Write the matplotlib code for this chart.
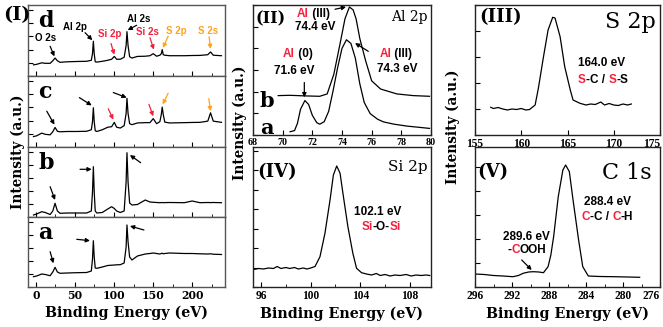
import matplotlib.pyplot as plt
from matplotlib.offsetbox import TextArea, HPacker, AnnotationBbox
from matplotlib.ticker import MultipleLocator

W, H = 663, 327
RED = '#f5203c'
ORANGE = '#ffa31a'
SERIF = 'DejaVu Serif'
TICKFONT = 'Liberation Serif'
SANS = 'Liberation Sans'

# ---- panel (I): survey spectra d, c, b, a ----
survey_x = [-3, 1, 7.6, 12, 18.3, 21.7, 24.6, 27.6, 31, 40, 52, 65, 71, 72.5, 73.6, 74.7, 76, 78,
            85, 92, 97, 100.4, 103.4, 108, 113, 115.5, 116.6, 118, 120, 123, 130, 140, 146, 150.2,
            154.5, 158.7, 160.5, 161.7, 163, 165, 171, 190, 200, 210, 220, 223.5, 227, 237.5]
survey_d = [11, 11.5, 13, 12.5, 12.5, 15, 17.7, 15, 13.5, 14, 14.3, 14.5, 15.5, 22, 34.3, 22, 14, 13.7,
            14.5, 15.5, 16.5, 19.3, 16.5, 16.5, 18.5, 30, 43.7, 30, 19, 17.7, 19.3, 19.5, 20, 22,
            19.5, 20.5, 22, 26, 21, 20.5, 20, 20, 20.2, 20.3, 21, 23.7, 20.5, 20]
survey_c = [10.3, 11, 13.7, 12.5, 12, 15, 19.3, 15.5, 15, 15.3, 15.3, 15.5, 17, 25, 38.7, 25, 16, 15.3,
            17, 19.5, 20, 24.3, 19.5, 18.7, 21, 33, 48, 33, 23, 22, 23.7, 24, 24, 28,
            23, 25, 32, 39.3, 32, 24.5, 23.7, 24, 24.2, 24.3, 25.5, 33.7, 25.5, 24.3]
survey_b = [2, 3, 5.3, 4.5, 2.5, 6, 13.7, 6, 3.7, 4, 4, 4, 6, 25, 50.3, 25, 6, 4,
            4.5, 8, 10.3, 8.5, 6, 4.5, 6, 35, 64.3, 35, 14, 12, 12.5, 17, 15, 14.7,
            14.5, 14.3, 14.4, 14.5, 14.3, 14.4, 14.5, 14.3, 16, 14.3, 14.5, 14.4, 14.5, 14.3]
survey_a = [10.3, 11, 13, 12.5, 11.3, 15, 19.7, 15, 13.7, 14, 14.3, 14.5, 16, 28, 46.3, 30, 19, 18.7,
            20, 21.5, 21.8, 22, 22.2, 22.3, 24, 40, 62, 45, 30, 27, 31, 33, 33.5, 34,
            33.5, 33, 33.5, 33.8, 33.2, 33.5, 34, 33.5, 33.5, 33.2, 33, 33.2, 32.8, 32.5]
survey_ticks = [0, 50, 100, 150, 200]

# ---- panel (II): Al 2p ----
al_a_x = [70.5, 70.8, 71.0, 71.2, 71.5, 71.75, 72.0, 72.3, 72.5, 72.8, 73.1, 73.4, 73.7, 74.0, 74.3,
          74.6, 74.9, 75.2, 75.5, 75.9, 76.4, 76.8, 77.5, 78.4, 79.2, 79.9]
al_a_y = [3.3, 4.5, 12, 26, 35, 31, 20, 12.5, 11, 13.5, 24, 45, 68, 88, 96.7,
          93, 78, 52, 33, 21.7, 16, 13.3, 11, 9, 7.8, 6.7]
al_b_x = [69.7, 70.5, 71.5, 72.5, 73.0, 73.45, 73.9, 74.2, 74.5, 74.75, 74.95, 75.2, 75.6, 76.0,
          76.6, 77.7, 78.8, 79.9]
al_b_y = [40, 40.3, 39.7, 39.3, 41.7, 61.7, 95, 118, 130, 127, 118, 98, 75, 55,
          46.7, 41.7, 40, 39.3]
al_ticks = [68, 70, 72, 74, 76, 78, 80]

# ---- panel (III): S 2p ----
s_x = [156.7, 157, 157.5, 158, 158.5, 159, 159.5, 160, 160.5, 160.9, 161.5, 161.85, 162.4, 162.9,
       163.4, 163.65, 164.2, 164.7, 165.3, 165.6, 166.35, 167, 167.5, 168, 168.6, 169, 169.5, 170,
       170.5, 171, 171.5, 171.9]
s_y = [27.7, 26.5, 27.5, 26, 25, 26, 25.5, 26.5, 25, 25.5, 30, 46.7, 78, 105,
       117.7, 117, 98.3, 68.3, 45, 35, 31.7, 30, 31, 30.5, 33, 30, 31.5, 30,
       29.5, 31, 30, 31]
s_ticks = [155, 160, 165, 170, 175]

# ---- panel (IV): Si 2p ----
si_x = [95.4, 95.8, 96.2, 96.6, 97.0, 97.3, 97.6, 98.0, 98.3, 98.7, 99.0, 99.4, 99.7, 100.0, 100.35,
        100.75, 101.15, 101.56, 101.83, 102.1, 102.37, 102.6, 103.0, 103.4, 103.7, 104.1, 104.5,
        104.9, 105.3, 105.6, 106.0, 106.4, 106.8, 107.2, 107.7, 108.1, 108.5, 108.9, 109.3, 109.6]
si_y = [17.5, 18.5, 18, 19, 18.5, 20.5, 18.5, 19.5, 18.5, 19.5, 18, 19, 18, 19, 20.5,
        30.3, 53.7, 87, 112, 121, 113.7, 93.7, 60.3, 33.7, 18.7, 14.3, 13,
        12, 13.5, 11.5, 12.5, 11, 12, 11.5, 12.5, 11, 12, 11.5, 12, 11.5]
si_ticks = [96, 100, 104, 108]

# ---- panel (V): C 1s ----
c_x = [296, 295, 294, 293, 291.9, 291.3, 290.8, 290.2, 289.7, 289.1, 288.6, 288.1, 287.8, 287.5, 287.0,
       286.5, 286.2, 285.8, 285.4, 284.8, 284.35, 283.75, 282.5, 281, 279.5, 278.2]
c_y = [13, 12.5, 11.5, 11, 10.3, 11.5, 13.7, 15, 15.3, 15, 14.3, 20.3, 32, 50.3, 90.3,
       117, 122, 115.3, 87, 47, 20.3, 11, 10.5, 10.3, 10, 9.7]
c_ticks = [296, 292, 288, 284, 280, 276]

fig = plt.figure(figsize=(W / 100, H / 100), dpi=100)


def add_ax(l, t, r, b):
    return fig.add_axes([l / W, 1 - b / H, (r - l) / W, (b - t) / H])


def style(ax, spine='#222222'):
    for s in ax.spines.values():
        s.set_color(spine)
        s.set_linewidth(1.0)
    ax.tick_params(which='both', direction='in', labelsize=8, pad=2.5)
    ax.tick_params(which='major', length=3.5)
    ax.tick_params(which='minor', length=2)
    ax.tick_params(axis='y', which='both', labelleft=False)


def tickfont(ax, family, size, last_right=False):
    labs = ax.get_xticklabels()
    for lab in labs:
        lab.set_fontfamily(family)
        lab.set_fontweight('bold')
        lab.set_fontsize(size)
    if last_right:
        labs[-1].set_horizontalalignment('right')


def xlabel(ax):
    ax.set_xlabel('Binding Energy (eV)', family=SERIF, fontweight='bold', fontsize=10.3, labelpad=3)


def ylabel(px, py):
    fig.text(px / W, 1 - py / H, 'Intensity (a.u.)', fontsize=9.8, family=SERIF, fontweight='bold',
             rotation=90, ha='center', va='center')


def label(ax, x, y, s, size=7, color='black', ha='center'):
    ax.text(x, y, s, fontsize=size, color=color, ha=ha, va='center',
            family=SANS, fontweight='bold')


def multi(ax, x, y, parts, size=8.5):
    areas = [TextArea(s, textprops=dict(color=c, fontsize=size, fontweight='bold', family=SANS))
             for s, c in parts]
    box = HPacker(children=areas, pad=0, sep=0, align='baseline')
    ab = AnnotationBbox(box, (x, y), xycoords='data', frameon=False,
                        box_alignment=(0.5, 0.5), pad=0, annotation_clip=False)
    ax.add_artist(ab)


def arrow(ax, start, end, color='black'):
    ax.annotate('', xy=end, xytext=start,
                arrowprops=dict(arrowstyle='-|>', color=color, lw=0.9, mutation_scale=6,
                                shrinkA=0, shrinkB=0))


def serif(ax, x, y, s, size=13, ha='left', weight='bold'):
    ax.text(x, y, s, fontsize=size, ha=ha, va='center', family=SERIF, fontweight=weight)


# ---------------- panel (I) ----------------
rows = [('d', survey_d, 5, 76), ('c', survey_c, 76, 147), ('b', survey_b, 147, 217), ('a', survey_a, 217, 287)]
axes_I = {}
for name, ys, top, bot in rows:
    ax = add_ax(28, top, 225, bot)
    ax.plot(survey_x, ys, color='black', lw=0.9)
    ax.set_xlim(-10, 242)
    ax.set_ylim(0, 70)
    ax.set_xticks(survey_ticks)
    ax.xaxis.set_minor_locator(MultipleLocator(25))
    ax.yaxis.set_major_locator(MultipleLocator(13))
    style(ax, spine='#555555')
    if name != 'a':
        ax.tick_params(axis='x', labelbottom=False)
    serif(ax, 3, 54, name, size=16)
    axes_I[name] = ax
xlabel(axes_I['a'])

ax = axes_I['d']
label(ax, 13, 37, 'O 2s')
label(ax, 50, 48, 'Al 2p')
label(ax, 95, 41, 'Si 2p', color=RED)
label(ax, 131, 56, 'Al 2s')
label(ax, 143, 43, 'Si 2s', color=RED)
label(ax, 180, 44, 'S 2p', color=ORANGE)
label(ax, 220, 44, 'S 2s', color=ORANGE)
arrow(ax, (18.3, 29.3), (23.8, 19.3))
arrow(ax, (63, 42.7), (72.3, 35.3))
arrow(ax, (96.2, 32), (100.4, 21), RED)
arrow(ax, (129, 50), (117.5, 45.3))
arrow(ax, (146, 37.7), (151, 26), RED)
arrow(ax, (169.3, 39.3), (162.6, 27.7), ORANGE)
arrow(ax, (221.7, 38.7), (223.5, 26.7), ORANGE)

ax = axes_I['c']
arrow(ax, (14, 35.3), (23.8, 22))
arrow(ax, (55.7, 48.7), (71.5, 41))
arrow(ax, (92.7, 37.7), (99.1, 27), RED)
arrow(ax, (99.1, 53.7), (116.2, 48.7))
arrow(ax, (144.7, 42), (150.2, 30.3), RED)
arrow(ax, (169.3, 53), (162.2, 42), ORANGE)
arrow(ax, (221.3, 47.7), (223.5, 35.3), ORANGE)

ax = axes_I['b']
arrow(ax, (18.3, 30.3), (24.6, 17))
arrow(ax, (56.6, 47.7), (71.5, 47.7))
arrow(ax, (134.1, 54.3), (120.4, 62))

ax = axes_I['a']
arrow(ax, (18.3, 35.3), (22.5, 23.7))
arrow(ax, (52.4, 47.7), (69.3, 46.3))
arrow(ax, (138.3, 57), (120.4, 61))

fig.text(3 / W, 1 - 15 / H, '(I)', fontsize=14, family=SERIF, fontweight='bold', ha='left', va='center')
ylabel(18, 152)

# ---------------- panel (II) ----------------
ax2 = add_ax(253, 5, 431, 135)
ax2.plot(al_a_x, al_a_y, color='black', lw=0.9)
ax2.plot(al_b_x, al_b_y, color='black', lw=0.9)
ax2.set_xlim(68, 80)
ax2.set_ylim(0, 132)
ax2.set_xticks(al_ticks)
ax2.yaxis.set_major_locator(MultipleLocator(22))
style(ax2)
serif(ax2, 68.15, 118, '(II)', size=11.5)
serif(ax2, 79.8, 120, 'Al 2p', size=10, ha='right', weight='normal')
multi(ax2, 72.05, 123, [('Al', RED), (' (III)', 'black')])
label(ax2, 72.2, 110, '74.4 eV', size=8.5)
arrow(ax2, (73.53, 127.7), (74.27, 130))
multi(ax2, 71.03, 82, [('Al', RED), (' (0)', 'black')])
label(ax2, 70.8, 65, '71.6 eV', size=8.5)
arrow(ax2, (71.46, 53.3), (71.46, 38.3))
multi(ax2, 77.64, 82, [('Al', RED), (' (III)', 'black')])
label(ax2, 77.7, 67, '74.3 eV', size=8.5)
arrow(ax2, (75.77, 85), (74.88, 93.3))
serif(ax2, 68.95, 35, 'b', size=15, ha='center')
serif(ax2, 68.95, 7, 'a', size=15, ha='center')
ylabel(240, 123)

# ---------------- panel (IV) ----------------
ax4 = add_ax(253, 147, 431, 287)
ax4.plot(si_x, si_y, color='black', lw=0.9)
ax4.set_xlim(95.35, 109.7)
ax4.set_ylim(0, 140)
ax4.set_xticks(si_ticks)
ax4.xaxis.set_minor_locator(MultipleLocator(2))
ax4.yaxis.set_major_locator(MultipleLocator(19.5))
style(ax4)
xlabel(ax4)
serif(ax4, 95.67, 115, '(IV)', size=13)
serif(ax4, 109.4, 120, 'Si 2p', size=11, ha='right', weight='normal')
label(ax4, 105.39, 75, '102.1 eV', size=8.5)
multi(ax4, 105.67, 60, [('Si', RED), ('-O-', 'black'), ('Si', RED)])

# ---------------- panel (III) ----------------
ax3 = add_ax(475, 5, 660, 135)
ax3.plot(s_x, s_y, color='black', lw=0.9)
ax3.set_xlim(155, 175)
ax3.set_ylim(0, 130)
ax3.set_xticks(s_ticks)
ax3.yaxis.set_major_locator(MultipleLocator(26))
style(ax3)
serif(ax3, 155.5, 118, '(III)', size=13)
serif(ax3, 174.5, 113, 'S 2p', size=16, ha='right', weight='normal')
label(ax3, 168.73, 72, '164.0 eV', size=8.5)
multi(ax3, 168.84, 55, [('S', RED), ('-C / ', 'black'), ('S', RED), ('-S', 'black')])
ylabel(453, 127)

# ---------------- panel (V) ----------------
ax5 = add_ax(475, 147, 660, 287)
ax5.plot(c_x, c_y, color='black', lw=0.9)
ax5.set_xlim(296, 276)
ax5.set_ylim(0, 140)
ax5.set_xticks(c_ticks)
ax5.xaxis.set_minor_locator(MultipleLocator(2))
ax5.yaxis.set_major_locator(MultipleLocator(24))
style(ax5)
xlabel(ax5)
serif(ax5, 295.8, 115, '(V)', size=13)
serif(ax5, 276.9, 114, 'C 1s', size=16, ha='right', weight='normal')
label(ax5, 281.7, 85, '288.4 eV', size=8.5)
multi(ax5, 281.7, 70, [('C', RED), ('-C / ', 'black'), ('C', RED), ('-H', 'black')])
label(ax5, 290.4, 50, '289.6 eV', size=8.5)
multi(ax5, 290.4, 37, [('-', 'black'), ('C', RED), ('OOH', 'black')])
arrow(ax5, (290.95, 27), (289.87, 17))

# tick label fonts differ a little from panel to panel in the original
for a in axes_I.values():
    tickfont(a, SERIF, 7.8)
tickfont(ax2, TICKFONT, 7.2)
tickfont(ax3, TICKFONT, 8.3, last_right=True)
tickfont(ax4, TICKFONT, 8.3)
tickfont(ax5, TICKFONT, 8.3, last_right=True)

fig.savefig('out.png', dpi=100)
